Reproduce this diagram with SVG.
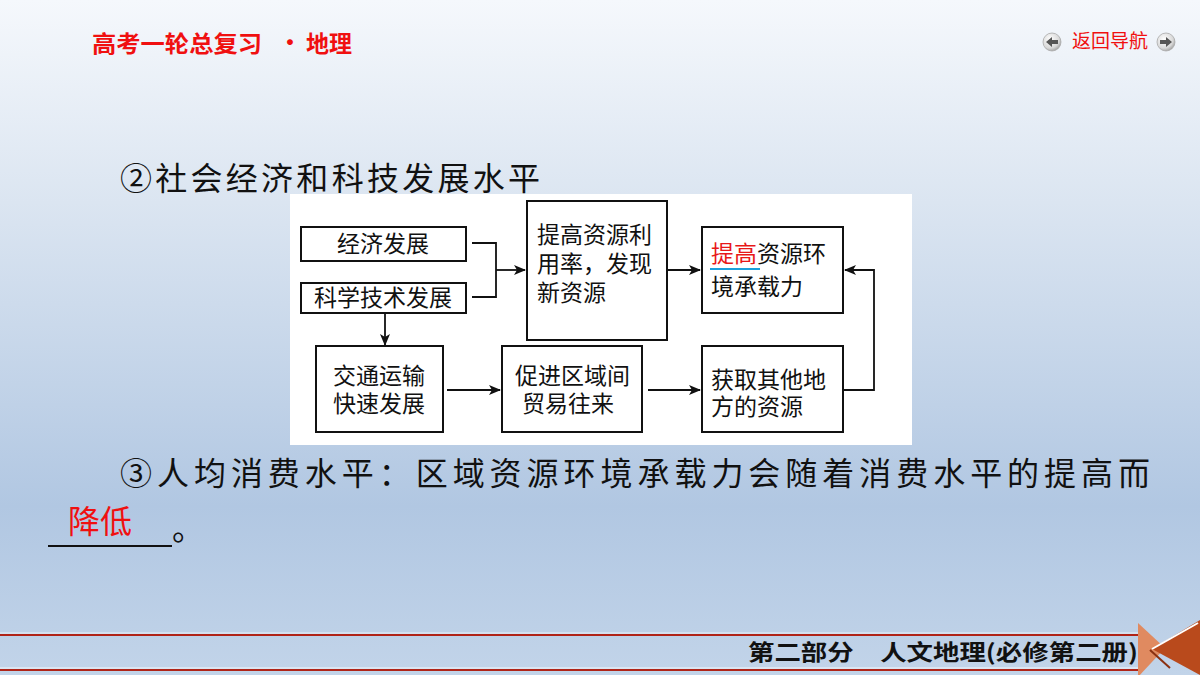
<svg xmlns="http://www.w3.org/2000/svg" width="1200" height="675" viewBox="0 0 1200 675">
<defs>
<linearGradient id="bg" x1="0" y1="0" x2="0" y2="1">
<stop offset="0" stop-color="#f5f8fc"/>
<stop offset="0.3" stop-color="#dbe5f1"/>
<stop offset="0.75" stop-color="#b1c7e2"/>
<stop offset="1" stop-color="#c2d4e9"/>
</linearGradient>
<radialGradient id="btn" cx="0.4" cy="0.35" r="0.7">
<stop offset="0" stop-color="#ffffff"/>
<stop offset="0.7" stop-color="#d8d8d8"/>
<stop offset="1" stop-color="#9a9a9a"/>
</radialGradient>
<marker id="arr" markerWidth="12" markerHeight="10" refX="11" refY="5" orient="auto" markerUnits="userSpaceOnUse">
<path d="M0,0 L12,5 L0,10 L3,5 Z" fill="#111"/>
</marker>
<style>
.box{fill:#fff;stroke:#111;stroke-width:2}
.bt{font-family:"Noto Sans CJK SC","Noto Sans CJK JP",sans-serif;font-size:23px;fill:#111}
.c{text-anchor:middle}
.ln{fill:none;stroke:#111;stroke-width:1.8}
.main{font-family:"Noto Sans CJK SC","Noto Sans CJK JP",sans-serif;font-size:32px;fill:#111}
</style>
</defs>
<rect x="0" y="0" width="1200" height="675" fill="url(#bg)"/>
<g id="header">
<text x="92" y="52" font-family="'Noto Sans CJK SC',sans-serif" font-size="23" font-weight="bold" fill="#f01010" textLength="170" lengthAdjust="spacingAndGlyphs">高考一轮总复习</text>
<text x="290" y="51" font-family="'Noto Sans CJK SC',sans-serif" font-size="23" font-weight="bold" fill="#f01010" text-anchor="middle">•</text>
<text x="306" y="52" font-family="'Noto Sans CJK SC',sans-serif" font-size="23" font-weight="bold" fill="#f01010">地理</text>
</g>
<g id="nav">
<circle cx="1052" cy="42" r="9" fill="url(#btn)" stroke="#aaa" stroke-width="0.8"/>
<path d="M1046,42 L1052,37 L1052,40 L1058,40 L1058,44 L1052,44 L1052,47 Z" fill="#555"/>
<text x="1072" y="48" font-family="'Noto Sans CJK SC',sans-serif" font-size="19" fill="#f01010">返回导航</text>
<circle cx="1166" cy="42" r="9" fill="url(#btn)" stroke="#aaa" stroke-width="0.8"/>
<path d="M1172,42 L1166,37 L1166,40 L1160,40 L1160,44 L1166,44 L1166,47 Z" fill="#555"/>
</g>
<text class="main" x="120" y="190" textLength="420" lengthAdjust="spacing">②社会经济和科技发展水平</text>
<rect x="290" y="194" width="622" height="251" fill="#fff"/>
<g id="n1"><rect class="box" x="301" y="227" width="165" height="34"/><text class="bt c" x="383" y="252">经济发展</text></g>
<g id="n2"><rect class="box" x="301" y="283" width="165" height="30"/><text class="bt c" x="383" y="306">科学技术发展</text></g>
<g id="n3"><rect class="box" x="527" y="201" width="140" height="139"/>
<text class="bt"><tspan x="537" y="243">提高资源利</tspan><tspan x="537" y="272">用率，发现</tspan><tspan x="537" y="301">新资源</tspan></text></g>
<g id="n4"><rect class="box" x="702" y="227" width="141" height="86"/>
<text class="bt"><tspan x="711" y="262"><tspan fill="#e81818">提高</tspan>资源环</tspan><tspan x="711" y="295">境承载力</tspan></text>
<line x1="710" y1="269" x2="760" y2="269" stroke="#1aa0dc" stroke-width="2"/></g>
<g id="n5"><rect class="box" x="316" y="346" width="127" height="86"/>
<text class="bt c"><tspan x="379" y="384">交通运输</tspan><tspan x="379" y="412">快速发展</tspan></text></g>
<g id="n6"><rect class="box" x="502" y="346" width="140" height="86"/>
<text class="bt"><tspan x="515" y="384">促进区域间</tspan><tspan x="522" y="412">贸易往来</tspan></text></g>
<g id="n7"><rect class="box" x="702" y="346" width="141" height="86"/>
<text class="bt"><tspan x="711" y="388">获取其他地</tspan><tspan x="711" y="415">方的资源</tspan></text></g>
<g id="connectors">
<path class="ln" d="M472,243 H496 V297 H472"/>
<path class="ln" d="M496,270 H525" marker-end="url(#arr)"/>
<path class="ln" d="M385,313 V345" marker-end="url(#arr)"/>
<path class="ln" d="M447,390 H500" marker-end="url(#arr)"/>
<path class="ln" d="M667,270 H700" marker-end="url(#arr)"/>
<path class="ln" d="M648,390 H700" marker-end="url(#arr)"/>
<path class="ln" d="M843,390 H874 V270 H845" marker-end="url(#arr)"/>
</g>
<text class="main" x="120" y="485" textLength="1030" lengthAdjust="spacing">③人均消费水平：区域资源环境承载力会随着消费水平的提高而</text>
<text x="68" y="533" font-family="'Noto Sans CJK SC',sans-serif" font-size="32" fill="#f01010">降低</text>
<line x1="48" y1="546" x2="172" y2="546" stroke="#111" stroke-width="2.2"/>
<text class="main" x="172" y="540">。</text>
<g id="footer">
<line x1="0" y1="633" x2="1140" y2="633" stroke="#eaf1f8" stroke-width="1"/>
<line x1="0" y1="635" x2="1140" y2="635" stroke="#b02418" stroke-width="2"/>
<line x1="0" y1="668" x2="1140" y2="668" stroke="#f4f8fb" stroke-width="1.2"/>
<line x1="0" y1="670" x2="1140" y2="670" stroke="#b02418" stroke-width="2.2"/>
<text x="748" y="660" font-family="'Noto Sans CJK SC',sans-serif" font-size="22" font-weight="bold" fill="#111" textLength="390" lengthAdjust="spacingAndGlyphs">第二部分　人文地理(必修第二册)</text>
<polygon points="1138,623 1165,648 1138,677" fill="#e08a60"/>
<polygon points="1200,620 1200,675 1152,649" fill="#b94a1c"/>
<path d="M1152,649 L1198,623" stroke="#ffffff" stroke-width="2" fill="none"/>
<path d="M1150,650 L1170,668" stroke="#8a3010" stroke-width="2" fill="none"/>
</g>
</svg>
